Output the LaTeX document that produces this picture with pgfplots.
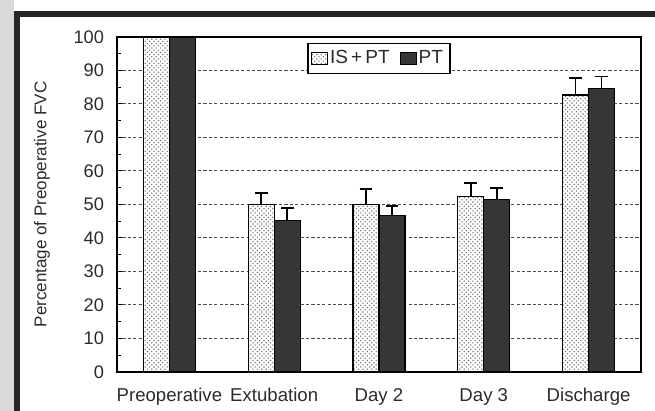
\documentclass[border=0pt]{standalone}
\usepackage{pgfplots}
\pgfplotsset{compat=1.18}
\usepackage{fontspec}
\setmainfont{Liberation Sans}
\usetikzlibrary{patterns,patterns.meta}

\tikzdeclarepattern{
  name=sdots,
  type=uncolored,
  bounding box={(-0.5pt,-0.5pt) and (2.7pt,2.7pt)},
  tile size={(2.2pt,2.2pt)},
  code={
    \fill (0pt,0pt) circle (0.38pt);
    \fill (1.1pt,1.1pt) circle (0.38pt);
  }
}

\definecolor{barDark}{HTML}{363636}
\definecolor{txt}{HTML}{2B2B2B}

\begin{document}
\begin{tikzpicture}
\path[use as bounding box] (0,0) rectangle (327.5pt,205.5pt);
\fill[gray!30] (0,0) rectangle (7pt,205.5pt);
\draw[line width=3pt, black!85] (8.5pt,0) -- (8.5pt,198.5pt) -- (327.5pt,198.5pt);
\begin{axis}[
  at={(58.5pt,19.5pt)}, anchor=south west,
  scale only axis, width=262pt, height=167.5pt,
  xmin=-0.5, xmax=4.5, ymin=0, ymax=100,
  xtick={0,1,2,3,4},
  xticklabels={Preoperative, Extubation, Day 2, Day 3, Discharge},
  x tick style={draw=none},
  ytick={0,10,...,100},
  minor ytick={5,15,...,95},
  ytick pos=left,
  tick align=inside,
  major tick length=2.5pt, minor tick length=2pt,
  y tick style={black, line width=0.5pt},
  ymajorgrids,
  major grid style={dash pattern=on 1.6pt off 1.1pt, black!70, line width=0.5pt},
  axis line style={black, line width=0.6pt},
  /pgf/number format/assume math mode=true,
  yticklabel style={font=\fontsize{9.1}{10}\selectfont, text=txt, xshift=-3pt},
  xticklabel style={font=\fontsize{9.3}{10}\selectfont, text=txt, yshift=-2pt},
  ylabel={Percentage of Preoperative FVC},
  ylabel style={at={(axis description cs:-0.143,0.5)}, anchor=center, font=\fontsize{8.5}{10}\selectfont, text=txt},
  ybar, bar width=13pt,
  legend columns=2,
  legend style={at={(0.5,0.982)}, anchor=north, draw=black, line width=0.6pt,
    font=\fontsize{9.5}{10}\selectfont, text=txt, inner sep=1.5pt,
    /tikz/every even column/.append style={column sep=3pt},
    /tikz/every odd column/.append style={column sep=-1pt}},
  legend image code/.code={\draw[#1, line width=0.5pt] (0pt,-3pt) rectangle (8pt,3pt);},
  error bars/y dir=plus, error bars/y explicit,
  error bars/error mark options={rotate=90, mark size=3.2pt, line width=0.9pt, black},
  error bars/error bar style={line width=0.9pt, black},
]
\addplot[bar shift=-6.5pt, draw=black, line width=0.6pt, fill=white,
  postaction={pattern=sdots, pattern color=black!55}]
  coordinates {(0,100) +- (0,0) (1,50) +- (0,3.5) (2,50) +- (0,4.7) (3,52.3) +- (0,4.2) (4,82.7) +- (0,5.0)};
\addplot[bar shift=6.5pt, draw=black, line width=0.6pt, fill=barDark]
  coordinates {(0,100) +- (0,0) (1,45.2) +- (0,3.7) (2,46.6) +- (0,3.0) (3,51.5) +- (0,3.5) (4,84.7) +- (0,3.5)};
\legend{IS\,+\,PT, PT}
\end{axis}
\end{tikzpicture}
\end{document}
